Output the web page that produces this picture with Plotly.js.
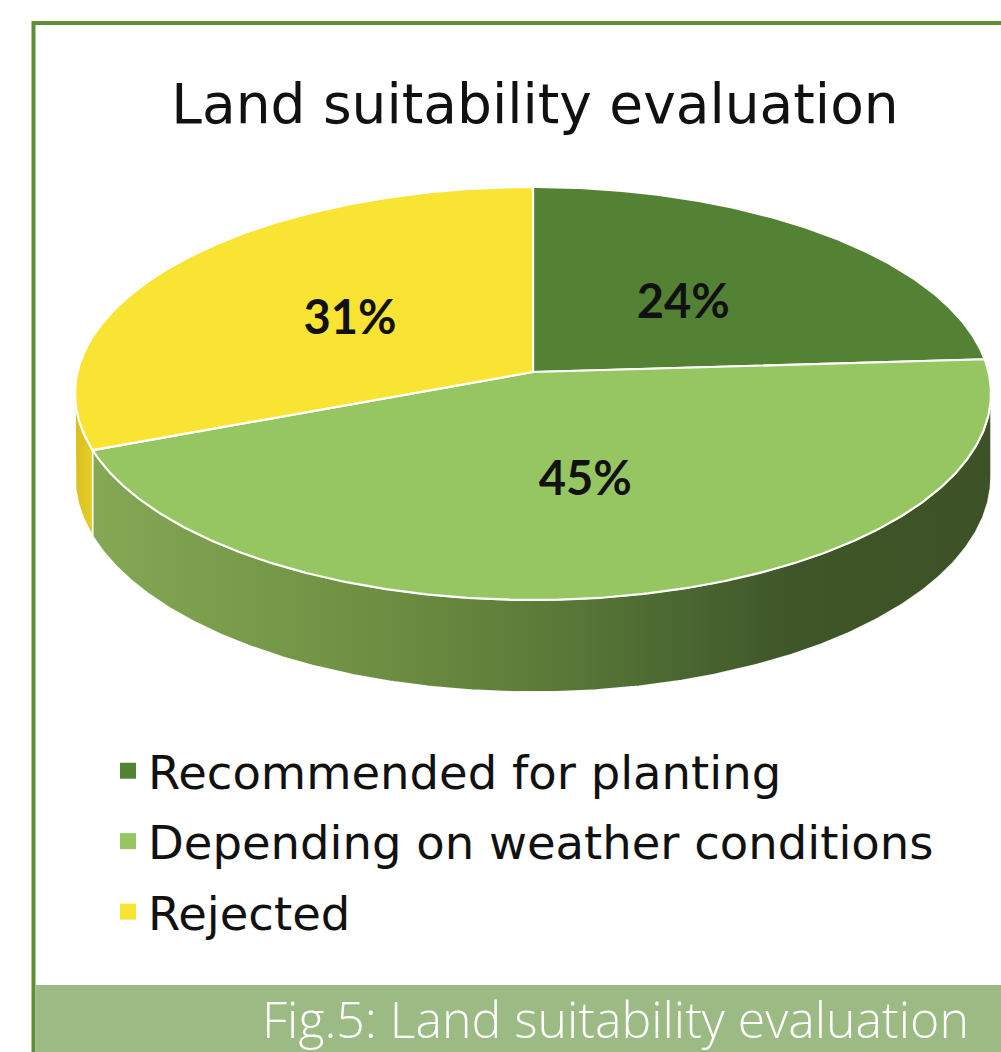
<!DOCTYPE html>
<html>
<head>
<meta charset="utf-8">
<script src="https://cdn.plot.ly/plotly-3.0.1.min.js"></script>
<style>html,body{margin:0;padding:0;background:#fff;}#chart{width:1001px;height:1052px;}</style>
</head>
<body>
<div id="chart"></div>
<script>
// ---- data ----
const categories = ['Recommended for planting', 'Depending on weather conditions', 'Rejected'];
const shares = [24, 45, 31];
const shareLabels = ['24%', '45%', '31%'];
const sliceColors = ['#548235', '#96c661', '#f9e333'];
const chartTitle = 'Land suitability evaluation';
const captionText = 'Fig.5: Land suitability evaluation';

// ---- 3D pie projection (layout geometry, pixel-like axis units) ----
const CX = 533, CY = 372, A = 455.5, B = 204.3, E = 0.104, H = 82.4;
function proj(phi, r, drop) {
  const s = Math.sin(phi), c = Math.cos(phi);
  const d = 1 + E * r * c;
  return [CX + A * r * s / d, CY - B * r * c / d + drop * H / d];
}
const deg = Math.PI / 180;
function arc(a0, a1, r, drop) {
  const pts = [];
  const n = Math.max(2, Math.ceil(Math.abs(a1 - a0) / (0.5 * deg)));
  for (let i = 0; i <= n; i++) pts.push(proj(a0 + (a1 - a0) * i / n, r, drop));
  return pts;
}

const total = shares.reduce((a, b) => a + b, 0);
const bounds = [];
let acc = 0;
shares.forEach(v => { bounds.push([acc / total * 2 * Math.PI, (acc + v) / total * 2 * Math.PI]); acc += v; });

const silA = Math.acos(-E), silB = 2 * Math.PI - Math.acos(-E);
const sideScales = [
  [[0, '#4a6a2c'], [1, '#3d5226']],
  [[0, '#84a854'], [0.3, '#6f9043'], [0.5, '#5c7b39'], [0.65, '#4b6731'], [0.78, '#3f5629'], [1, '#3d5226']],
  [[0, '#d8bf1e'], [1, '#e6cd28']]
];

const traces = [];
// sides
bounds.forEach((b, i) => {
  const a0 = Math.max(b[0], silA), a1 = Math.min(b[1], silB);
  if (a1 <= a0) return;
  const top = arc(a0, a1, 1, 0);
  const bot = arc(a1, a0, 1, 1);
  const pts = top.concat(bot, [top[0]]);
  traces.push({
    type: 'scatter', mode: 'lines', x: pts.map(p => p[0]), y: pts.map(p => p[1]),
    fill: 'toself', fillgradient: {type: 'horizontal', colorscale: sideScales[i]},
    line: {color: 'rgba(255,255,255,0.9)', width: 1.5}, showlegend: false, hoverinfo: 'skip'
  });
});
// top faces
bounds.forEach((b, i) => {
  const pts = [proj(0, 0, 0)].concat(arc(b[0], b[1], 1, 0), [proj(0, 0, 0)]);
  traces.push({
    type: 'scatter', mode: 'lines', x: pts.map(p => p[0]), y: pts.map(p => p[1]),
    fill: 'toself', fillcolor: sliceColors[i], line: {color: '#ffffff', width: 2.2},
    showlegend: false, hoverinfo: 'skip', name: categories[i]
  });
});
// data labels
const labelPts = bounds.map(b => proj((b[0] + b[1]) / 2, 0.5, 0.075));
traces.push({
  type: 'scatter', mode: 'text', x: labelPts.map(p => p[0]), y: labelPts.map(p => p[1]),
  text: shareLabels, textposition: 'middle center',
  textfont: {family: 'Lato', size: 47, weight: 'bold', color: '#111'},
  showlegend: false, hoverinfo: 'skip'
});
// legend entries
categories.forEach((c, i) => {
  traces.push({
    type: 'scatter', mode: 'markers', x: [null], y: [null], name: c, legendgroup: 'g' + i,
    marker: {symbol: 'square', size: 16, color: sliceColors[i]}, hoverinfo: 'skip'
  });
});

const layout = {
  width: 1001, height: 1052,
  margin: {l: 0, r: 0, t: 0, b: 0},
  paper_bgcolor: '#ffffff', plot_bgcolor: '#ffffff',
  xaxis: {range: [0, 1001], visible: false, fixedrange: true},
  yaxis: {range: [1052, 0], visible: false, fixedrange: true},
  title: {text: chartTitle, font: {family: 'DejaVu Sans', size: 55, color: '#111'},
          x: 535 / 1001, xanchor: 'center', xref: 'paper', y: 1 - 104 / 1052, yanchor: 'middle', yref: 'paper'},
  showlegend: true,
  legend: {x: 108 / 1001, xanchor: 'left', y: 1 - 734 / 1052, yanchor: 'top',
           font: {family: 'DejaVu Sans', size: 46.5, color: '#111'}, tracegroupgap: 7,
           bgcolor: 'rgba(0,0,0,0)', itemclick: false, itemdoubleclick: false},
  shapes: [
    {type: 'rect', xref: 'x', yref: 'y', x0: 33.5, x1: 1040, y0: 23, y1: 1090,
     line: {color: '#5e8f37', width: 4}, fillcolor: 'rgba(0,0,0,0)', layer: 'below'},
    {type: 'rect', xref: 'x', yref: 'y', x0: 35.5, x1: 1040, y0: 985, y1: 1090,
     line: {width: 0}, fillcolor: '#9bba84', layer: 'below'}
  ],
  annotations: [
    {xref: 'x', yref: 'y', x: 260, y: 1019, xanchor: 'left', yanchor: 'middle', showarrow: false,
     text: captionText, font: {family: 'Open Sans', size: 50, weight: 300, color: '#ffffff'}}
  ]
};

Plotly.newPlot('chart', traces, layout, {staticPlot: true, displayModeBar: false});
</script>
</body>
</html>
